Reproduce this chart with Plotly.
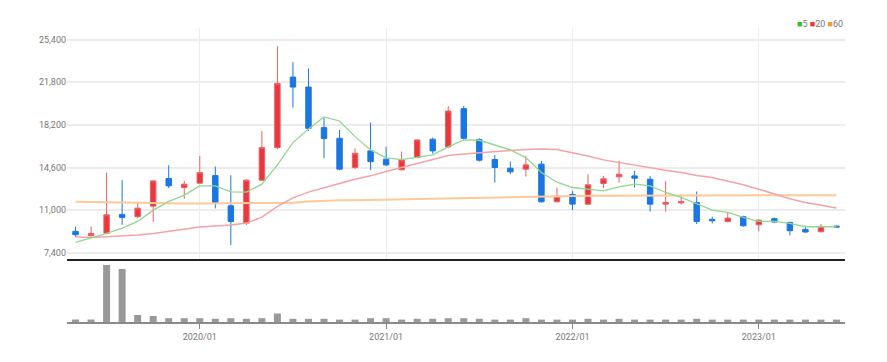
import plotly.graph_objects as go

months = ["2019/05","2019/06","2019/07","2019/08","2019/09","2019/10","2019/11","2019/12",
          "2020/01","2020/02","2020/03","2020/04","2020/05","2020/06","2020/07","2020/08",
          "2020/09","2020/10","2020/11","2020/12","2021/01","2021/02","2021/03","2021/04",
          "2021/05","2021/06","2021/07","2021/08","2021/09","2021/10","2021/11","2021/12",
          "2022/01","2022/02","2022/03","2022/04","2022/05","2022/06","2022/07","2022/08",
          "2022/09","2022/10","2022/11","2022/12","2023/01","2023/02","2023/03","2023/04",
          "2023/05","2023/06"]

open_ = [9220, 8860, 9050, 10650, 10460, 11350, 13680, 12920, 13290, 13930,
         11380, 9920, 13540, 16290, 22230, 21390, 17970, 17070, 14610, 16010,
         15310, 14410, 15450, 16990, 16340, 19570, 16960, 15280, 14550, 14470,
         14890, 11720, 12330, 11520, 13260, 13820, 13900, 13620, 11520, 11630,
         11660, 10230, 10060, 10460, 9780, 10290, 9980, 9390, 9190, 9670]
high = [9610, 9610, 14180, 13540, 11720, 13540, 14800, 13480, 15590, 14690,
        13960, 13620, 17690, 24840, 23490, 22960, 18810, 17770, 16230, 18390,
        16370, 15950, 16990, 17130, 19790, 19790, 17070, 15670, 15110, 15590,
        15170, 12920, 12640, 14040, 13900, 15170, 14320, 13900, 13480, 12280,
        12590, 10460, 10820, 10540, 10230, 10400, 10030, 9700, 9840, 9700]
low = [8770, 8770, 8970, 9780, 10340, 10030, 12870, 11970, 13200, 11160,
       8070, 9750, 13480, 16150, 19650, 17690, 15390, 14380, 14470, 14380,
       14720, 14380, 15390, 15780, 16230, 16960, 15110, 13340, 14040, 13850,
       11660, 11660, 11020, 11460, 12870, 13340, 12920, 10900, 10880, 11460,
       9840, 9890, 9980, 9610, 9220, 9950, 8880, 9110, 9140, 9560]
close = [8940, 9050, 10620, 10400, 11180, 13480, 13060, 13200, 14180, 11660,
         10060, 13540, 16290, 21700, 21390, 17910, 17050, 14470, 15810, 15110,
         14830, 15250, 16930, 16010, 19370, 17070, 15220, 14610, 14240, 14830,
         11720, 12170, 11520, 13150, 13650, 14040, 13710, 11520, 11660, 11740,
         10060, 10120, 10340, 9700, 10170, 10010, 9280, 9170, 9640, 9590]

ma5 = [8296, 8660, 9053, 9501, 10062, 11016, 11745, 12278, 13063, 13063,
       12558, 12530, 13203, 14829, 16708, 17857, 18867, 18530, 17212, 16091,
       15418, 15278, 15474, 15670, 16343, 16932, 16904, 16511, 16091, 15446,
       14184, 13371, 12922, 12782, 12642, 12978, 13203, 13063, 12502, 12081,
       11520, 11016, 10819, 10399, 10062, 10062, 9894, 9614, 9614, 9614]
ma20 = [8772, 8716, 8772, 8828, 8913, 9053, 9221, 9417, 9586, 9670,
        9754, 9922, 10427, 11324, 12053, 12530, 12922, 13259, 13623, 13904,
        14268, 14605, 14941, 15306, 15614, 15754, 15866, 15951, 16035, 16119,
        16175, 16119, 15866, 15586, 15250, 15025, 14773, 14605, 14380, 14184,
        13932, 13764, 13483, 13147, 12782, 12362, 11969, 11660, 11436, 11184]
ma60 = [11717, 11689, 11661, 11633, 11605, 11605, 11577, 11577, 11577, 11577,
        11577, 11577, 11577, 11577, 11633, 11745, 11829, 11857, 11857, 11885,
        11885, 11913, 11941, 11969, 11997, 12025, 12081, 12109, 12137, 12165,
        12165, 12193, 12193, 12221, 12221, 12221, 12221, 12221, 12221, 12221,
        12221, 12278, 12278, 12278, 12278, 12278, 12278, 12278, 12278, 12278]

volume = [250, 250, 5700, 5300, 700, 600, 380, 380, 380, 320,
          380, 320, 380, 850, 320, 320, 320, 240, 240, 380,
          380, 240, 320, 320, 380, 380, 320, 240, 240, 380,
          240, 240, 240, 320, 240, 320, 240, 240, 240, 240,
          320, 240, 240, 240, 240, 240, 240, 240, 240, 240]

y_ticks = [7400, 11000, 14600, 18200, 21800, 25400]
y_ticktext = ["7,400", "11,000", "14,600", "18,200", "21,800", "25,400"]
x_ticks = ["2020/01", "2021/01", "2022/01", "2023/01"]

RED = "#e8383d"
RED_WICK = "#ec5f63"
BLUE = "#1a76e3"
GREEN = "#8fd98a"
PINK = "#f3a3a6"
ORANGE = "#fcc99a"
FONT = "Liberation Sans Narrow, Roboto, Liberation Sans, sans-serif"

fig = go.Figure()
fig.add_trace(go.Scatter(x=months, y=ma60, mode="lines", line=dict(color=ORANGE, width=2),
                         hoverinfo="skip", showlegend=False))
fig.add_trace(go.Scatter(x=months, y=ma20, mode="lines", line=dict(color=PINK, width=1.5),
                         hoverinfo="skip", showlegend=False))
fig.add_trace(go.Scatter(x=months, y=ma5, mode="lines", line=dict(color=GREEN, width=1.3),
                         hoverinfo="skip", showlegend=False))
fig.add_trace(go.Candlestick(x=months, open=open_, high=high, low=low, close=close,
                             increasing=dict(line=dict(color=RED_WICK, width=1), fillcolor=RED),
                             decreasing=dict(line=dict(color=BLUE, width=1), fillcolor=BLUE),
                             whiskerwidth=0, showlegend=False))
fig.add_trace(go.Bar(x=months, y=volume, marker=dict(color="#999999", line=dict(width=0)),
                     xaxis="x2", yaxis="y2", showlegend=False))

# the page body adds an 8px offset; margins compensate for it
fig.update_layout(
    width=887, height=362,
    margin=dict(l=59, r=50, t=20, b=48),
    paper_bgcolor="white", plot_bgcolor="white",
    boxgap=0.5, bargap=0.55,
    font=dict(family=FONT, size=9, color="#777777"),
    xaxis=dict(type="category", domain=[0, 1], anchor="y", range=[-0.55, 49.55],
               tickvals=x_ticks, showticklabels=False, ticks="",
               showgrid=True, gridcolor="#ececec", gridwidth=1,
               showline=True, linecolor="#222222", linewidth=1.5,
               rangeslider=dict(visible=False), fixedrange=True),
    yaxis=dict(domain=[0.2143, 1], range=[6894, 26370], tickvals=y_ticks, ticktext=y_ticktext,
               showgrid=True, gridcolor="#ececec", gridwidth=1.5, zeroline=False,
               ticks="", tickfont=dict(family=FONT, size=9, color="#777777")),
    xaxis2=dict(type="category", domain=[0, 1], anchor="y2", matches="x", range=[-0.55, 49.55],
                tickvals=x_ticks, ticks="outside", ticklen=5, tickcolor="#888888",
                showgrid=False, showline=True, linecolor="#8a8a8a", linewidth=2,
                tickfont=dict(family=FONT, size=9, color="#777777")),
    yaxis2=dict(domain=[0, 0.2075], range=[0, 6100], showticklabels=False, showgrid=False,
                zeroline=False, ticks=""),
    annotations=[dict(
        xref="paper", yref="paper", x=1.0, y=1.014, xanchor="right", yanchor="middle",
        showarrow=False, font=dict(family=FONT, size=9, color="#777777"),
        text=f"<span style='color:#2ebd2e'>■</span>5 <span style='color:{RED}'>■</span>20 "
             f"<span style='color:#f59a3a'>■</span>60")],
)

fig.write_html("out.html")
